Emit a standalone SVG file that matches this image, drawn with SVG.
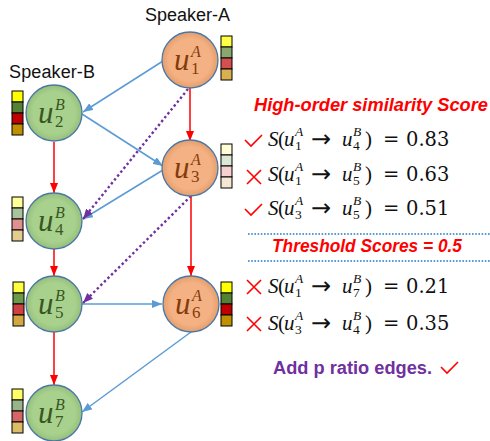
<svg xmlns="http://www.w3.org/2000/svg" width="490" height="441" viewBox="0 0 490 441">
<style>
.spk{font-family:"Liberation Sans",Arial,sans-serif;font-size:18px;fill:#111}
.node circle{stroke:#4a78a6;stroke-width:1.3}
.nu{font-family:"Liberation Serif","DejaVu Serif",serif;font-style:italic;font-size:31px}
.ns{font-family:"Liberation Serif","DejaVu Serif",serif;font-style:italic;font-size:16px}
.nd{font-family:"Liberation Serif","DejaVu Serif",serif;font-size:17px}
.ga text{fill:#843c0c}
.gb text{fill:#385723}
.bar rect{stroke:#000;stroke-width:1}
.blue{stroke:#5b9bd5;stroke-width:1.5;fill:none}
.red{stroke:#ff0000;stroke-width:1.5;fill:none}
.pur{stroke:#7030a0;stroke-width:2.4;fill:none;stroke-dasharray:2.4 2.6}
.m{font-family:"Liberation Serif","DejaVu Serif",serif;font-size:21px;fill:#111}
.mi{font-family:"Liberation Serif","DejaVu Serif",serif;font-size:21px;font-style:italic;fill:#111}
.ms{font-family:"Liberation Serif","DejaVu Serif",serif;font-size:13.5px;font-style:italic;fill:#111}
.md{font-family:"Liberation Serif","DejaVu Serif",serif;font-size:13.5px;fill:#111}
.ar{font-family:"DejaVu Sans",sans-serif;font-size:24px;fill:#111}
.num{font-family:"DejaVu Serif",serif;font-size:19.5px;fill:#111}
.ttl{font-family:"Liberation Sans",Arial,sans-serif;font-size:18px;font-weight:bold;font-style:italic;fill:#ff0000}
.add{font-family:"Liberation Sans",Arial,sans-serif;font-size:18px;font-weight:bold;fill:#7030a0}
.mark{stroke:#ff0000;stroke-width:1.6;fill:none}
.sep{stroke:#5b9bd5;stroke-width:2;stroke-dasharray:1.6 1.6}
</style>
<defs>
<radialGradient id="gA" cx="50%" cy="50%" r="50%">
<stop offset="0.75" stop-color="#f4b183"/><stop offset="1" stop-color="#e59e6c"/>
</radialGradient>
<radialGradient id="gB" cx="50%" cy="50%" r="50%">
<stop offset="0.75" stop-color="#a9d18e"/><stop offset="1" stop-color="#96bf7a"/>
</radialGradient>
<marker id="ab" markerUnits="userSpaceOnUse" markerWidth="10" markerHeight="8" refX="10" refY="4" orient="auto"><path d="M0,0 L10,4 L0,8 z" fill="#5b9bd5"/></marker>
<marker id="ar" markerUnits="userSpaceOnUse" markerWidth="10" markerHeight="8" refX="10" refY="4" orient="auto"><path d="M0,0 L10,4 L0,8 z" fill="#ff0000"/></marker>
<marker id="ap" markerUnits="userSpaceOnUse" markerWidth="10" markerHeight="8" refX="10" refY="4" orient="auto"><path d="M0,0 L10,4 L0,8 z" fill="#7030a0"/></marker>
</defs>

<text class="spk" x="145" y="21" textLength="85">Speaker-A</text>
<text class="spk" x="9" y="78" textLength="86">Speaker-B</text>

<g id="connectors">
<line class="blue" x1="163" y1="61" x2="83" y2="112" marker-end="url(#ab)"/>
<line class="blue" x1="82" y1="114" x2="163" y2="166" marker-end="url(#ab)"/>
<line class="blue" x1="163" y1="170" x2="83" y2="219" marker-end="url(#ab)"/>
<line class="blue" x1="82" y1="304" x2="162" y2="304" marker-end="url(#ab)"/>
<line class="blue" x1="191" y1="332" x2="82" y2="412" marker-end="url(#ab)"/>
<line class="red" x1="190" y1="88" x2="190" y2="141" marker-end="url(#ar)"/>
<line class="red" x1="54" y1="142" x2="54" y2="193" marker-end="url(#ar)"/>
<line class="red" x1="54" y1="249" x2="54" y2="276" marker-end="url(#ar)"/>
<line class="red" x1="191" y1="196" x2="191" y2="276" marker-end="url(#ar)"/>
<line class="red" x1="54" y1="332" x2="54" y2="385" marker-end="url(#ar)"/>
<line class="pur" x1="188" y1="89" x2="83" y2="219" marker-end="url(#ap)"/>
<line class="pur" x1="191" y1="196" x2="83" y2="303" marker-end="url(#ap)"/>
</g>

<g id="u1A" class="node ga">
<circle cx="190" cy="60" r="28" fill="url(#gA)"/>
<text class="nu" x="174" y="70">u</text><text class="ns" x="191" y="57">A</text><text class="nd" x="191" y="74">1</text>
<g class="bar"><rect x="221" y="36" width="11" height="11" fill="#ffff44"/><rect x="221" y="47" width="11" height="11" fill="#8aa86e"/><rect x="221" y="58" width="11" height="11" fill="#d45050"/><rect x="221" y="69" width="11" height="11" fill="#d8b050"/></g>
</g>
<g id="u2B" class="node gb">
<circle cx="54" cy="113" r="28" fill="url(#gB)"/>
<text class="nu" x="38" y="123">u</text><text class="ns" x="55" y="110">B</text><text class="nd" x="55" y="127">2</text>
<g class="bar"><rect x="12" y="91" width="11" height="11" fill="#ffff00"/><rect x="12" y="102" width="11" height="11" fill="#548235"/><rect x="12" y="113" width="11" height="11" fill="#c00000"/><rect x="12" y="124" width="11" height="11" fill="#bf9000"/></g>
</g>
<g id="u3A" class="node ga">
<circle cx="190" cy="168" r="28" fill="url(#gA)"/>
<text class="nu" x="174" y="178">u</text><text class="ns" x="191" y="165">A</text><text class="nd" x="191" y="182">3</text>
<g class="bar"><rect x="221" y="144" width="11" height="11" fill="#ffffd8"/><rect x="221" y="155" width="11" height="11" fill="#dce8d4"/><rect x="221" y="166" width="11" height="11" fill="#f4d0d0"/><rect x="221" y="177" width="11" height="11" fill="#f4e8d4"/></g>
</g>
<g id="u4B" class="node gb">
<circle cx="54" cy="221" r="28" fill="url(#gB)"/>
<text class="nu" x="38" y="231">u</text><text class="ns" x="55" y="218">B</text><text class="nd" x="55" y="235">4</text>
<g class="bar"><rect x="12" y="197" width="11" height="11" fill="#ffff99"/><rect x="12" y="208" width="11" height="11" fill="#a9c49a"/><rect x="12" y="219" width="11" height="11" fill="#e09090"/><rect x="12" y="230" width="11" height="11" fill="#e4cc90"/></g>
</g>
<g id="u5B" class="node gb">
<circle cx="54" cy="304" r="28" fill="url(#gB)"/>
<text class="nu" x="38" y="314">u</text><text class="ns" x="55" y="301">B</text><text class="nd" x="55" y="318">5</text>
<g class="bar"><rect x="13" y="282" width="11" height="11" fill="#ffff40"/><rect x="13" y="293" width="11" height="11" fill="#6a9a4a"/><rect x="13" y="304" width="11" height="11" fill="#d04040"/><rect x="13" y="315" width="11" height="11" fill="#d4a840"/></g>
</g>
<g id="u6A" class="node ga">
<circle cx="191" cy="304" r="28" fill="url(#gA)"/>
<text class="nu" x="175" y="314">u</text><text class="ns" x="192" y="301">A</text><text class="nd" x="192" y="318">6</text>
<g class="bar"><rect x="221" y="282" width="11" height="11" fill="#ffff00"/><rect x="221" y="293" width="11" height="11" fill="#548235"/><rect x="221" y="304" width="11" height="11" fill="#c00000"/><rect x="221" y="315" width="11" height="11" fill="#bf9000"/></g>
</g>
<g id="u7B" class="node gb">
<circle cx="54" cy="413" r="28" fill="url(#gB)"/>
<text class="nu" x="38" y="423">u</text><text class="ns" x="55" y="410">B</text><text class="nd" x="55" y="427">7</text>
<g class="bar"><rect x="12" y="389" width="11" height="11" fill="#ffff66"/><rect x="12" y="400" width="11" height="11" fill="#98b488"/><rect x="12" y="411" width="11" height="11" fill="#d46666"/><rect x="12" y="422" width="11" height="11" fill="#dcbc64"/></g>
</g>

<g id="scores">
<text class="ttl" x="254" y="111" textLength="234" lengthAdjust="spacingAndGlyphs">High-order similarity Score</text>

<g transform="translate(0,146)">
<path class="mark" d="M245,-6 L251,0 L262,-11"/>
<text class="mi" x="268" y="0">S</text><text class="m" x="278" y="0">(</text><text class="mi" x="284" y="0">u</text><text class="ms" x="295" y="-10">A</text><text class="md" x="295" y="4">1</text>
<text class="ar" x="311" y="1">→</text><text class="mi" x="342" y="0">u</text><text class="ms" x="353" y="-10">B</text><text class="md" x="353" y="4">4</text>
<text class="m" x="365" y="0">)</text><text class="num" x="383" y="0">=</text><text class="num" x="406" y="0">0.83</text>
</g>
<g transform="translate(0,181)">
<path class="mark" d="M247,-11 L261,3 M261,-11 L247,3"/>
<text class="mi" x="268" y="0">S</text><text class="m" x="278" y="0">(</text><text class="mi" x="284" y="0">u</text><text class="ms" x="295" y="-10">A</text><text class="md" x="295" y="4">1</text>
<text class="ar" x="311" y="1">→</text><text class="mi" x="342" y="0">u</text><text class="ms" x="353" y="-10">B</text><text class="md" x="353" y="4">5</text>
<text class="m" x="365" y="0">)</text><text class="num" x="383" y="0">=</text><text class="num" x="406" y="0">0.63</text>
</g>
<g transform="translate(0,215)">
<path class="mark" d="M245,-6 L251,0 L262,-11"/>
<text class="mi" x="268" y="0">S</text><text class="m" x="278" y="0">(</text><text class="mi" x="284" y="0">u</text><text class="ms" x="295" y="-10">A</text><text class="md" x="295" y="4">3</text>
<text class="ar" x="311" y="1">→</text><text class="mi" x="342" y="0">u</text><text class="ms" x="353" y="-10">B</text><text class="md" x="353" y="4">5</text>
<text class="m" x="365" y="0">)</text><text class="num" x="383" y="0">=</text><text class="num" x="406" y="0">0.51</text>
</g>

<line class="sep" x1="248" y1="234" x2="490" y2="234"/>
<text class="ttl" x="272" y="252" textLength="190" lengthAdjust="spacingAndGlyphs">Threshold Scores = 0.5</text>
<line class="sep" x1="248" y1="261" x2="490" y2="261"/>

<g transform="translate(0,293)">
<path class="mark" d="M247,-13 L261,1 M261,-13 L247,1"/>
<text class="mi" x="268" y="0">S</text><text class="m" x="278" y="0">(</text><text class="mi" x="284" y="0">u</text><text class="ms" x="295" y="-10">A</text><text class="md" x="295" y="4">1</text>
<text class="ar" x="311" y="1">→</text><text class="mi" x="342" y="0">u</text><text class="ms" x="353" y="-10">B</text><text class="md" x="353" y="4">7</text>
<text class="m" x="365" y="0">)</text><text class="num" x="383" y="0">=</text><text class="num" x="406" y="0">0.21</text>
</g>
<g transform="translate(0,330)">
<path class="mark" d="M247,-13 L261,1 M261,-13 L247,1"/>
<text class="mi" x="268" y="0">S</text><text class="m" x="278" y="0">(</text><text class="mi" x="284" y="0">u</text><text class="ms" x="295" y="-10">A</text><text class="md" x="295" y="4">3</text>
<text class="ar" x="311" y="1">→</text><text class="mi" x="342" y="0">u</text><text class="ms" x="353" y="-10">B</text><text class="md" x="353" y="4">4</text>
<text class="m" x="365" y="0">)</text><text class="num" x="383" y="0">=</text><text class="num" x="406" y="0">0.35</text>
</g>

<text class="add" x="273" y="374" textLength="159" lengthAdjust="spacingAndGlyphs">Add p ratio edges.</text>
<path class="mark" d="M441,367 L447,373 L458,362"/>
</g>
</svg>
